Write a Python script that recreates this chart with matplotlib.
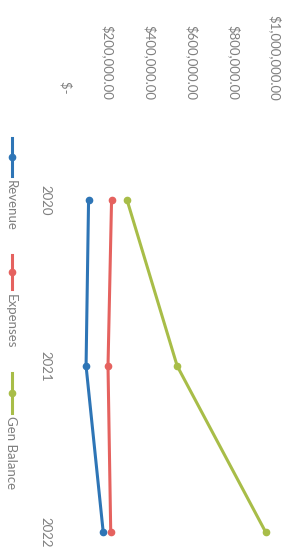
"""Gráfico de líneas (girado 90°) de ingresos, gastos y balance."""

import matplotlib
matplotlib.use("Agg")
import matplotlib.pyplot as plt
from matplotlib.lines import Line2D

years = ["2020", "2021", "2022"]
revenue = [108000, 96000, 178000]
expenses = [218000, 201000, 214000]
gen_balance = [292000, 532000, 955000]
value_ticks = [0, 200000, 400000, 600000, 800000, 1000000]
value_labels = ["$-  ", "$200,000.00", "$400,000.00", "$600,000.00",
                "$800,000.00", "$1,000,000.00"]

series = [
    ("Revenue", revenue, "#2E75B6"),
    ("Expenses", expenses, "#E5625F"),
    ("Gen Balance", gen_balance, "#A8BD48"),
]

W, H = 291, 556
GRIS = "#7F7F7F"
TAM = 9.5
plt.rcParams["font.family"] = ["Lato", "DejaVu Sans"]

fig = plt.figure(figsize=(W / 100, H / 100), dpi=100)


def fx(px):
    return px / W


def fy(py):
    return 1 - py / H


# ejes: valores en horizontal, años en vertical (de arriba a abajo)
left, right, top = 66, 275, 117
ax = fig.add_axes([fx(left), 0, fx(right) - fx(left), fy(top)])
pos = list(range(len(years)))
ax.set_xlim(0, 1000000)
ax.set_ylim((H - 200) / 166, -0.5)

for nombre, valores, color in series:
    ax.plot(valores, pos, color=color, lw=2.2, marker="o", ms=4.5,
            solid_capstyle="round", clip_on=False)

ax.xaxis.tick_top()
ax.set_xticks(value_ticks)
ax.set_xticklabels(value_labels, rotation=-90, color=GRIS, fontsize=TAM)
ax.tick_params(axis="x", length=0, pad=12)
ax.set_yticks([])
for s in ax.spines.values():
    s.set_visible(False)

# etiquetas de años a la izquierda del área
for p, y in zip(pos, years):
    ax.text(-0.10, p, y, transform=ax.get_yaxis_transform(), rotation=-90,
            ha="center", va="center", color=GRIS, fontsize=TAM)

# leyenda girada dibujada a mano
leyenda = [(138, 176, 180), (255, 289, 294), (373, 413, 416)]
for (nombre, valores, color), (y0, y1, yt) in zip(series, leyenda):
    fig.add_artist(Line2D([fx(12), fx(12)], [fy(y0), fy(y1)], color=color,
                          lw=2.2, transform=fig.transFigure))
    fig.add_artist(Line2D([fx(12)], [fy((y0 + y1) / 2)], color=color,
                          marker="o", ms=4.5, transform=fig.transFigure))
    fig.text(fx(11), fy(yt), nombre, rotation=-90, ha="center", va="top",
             color=GRIS, fontsize=TAM)

fig.savefig("out.png", dpi=100)
